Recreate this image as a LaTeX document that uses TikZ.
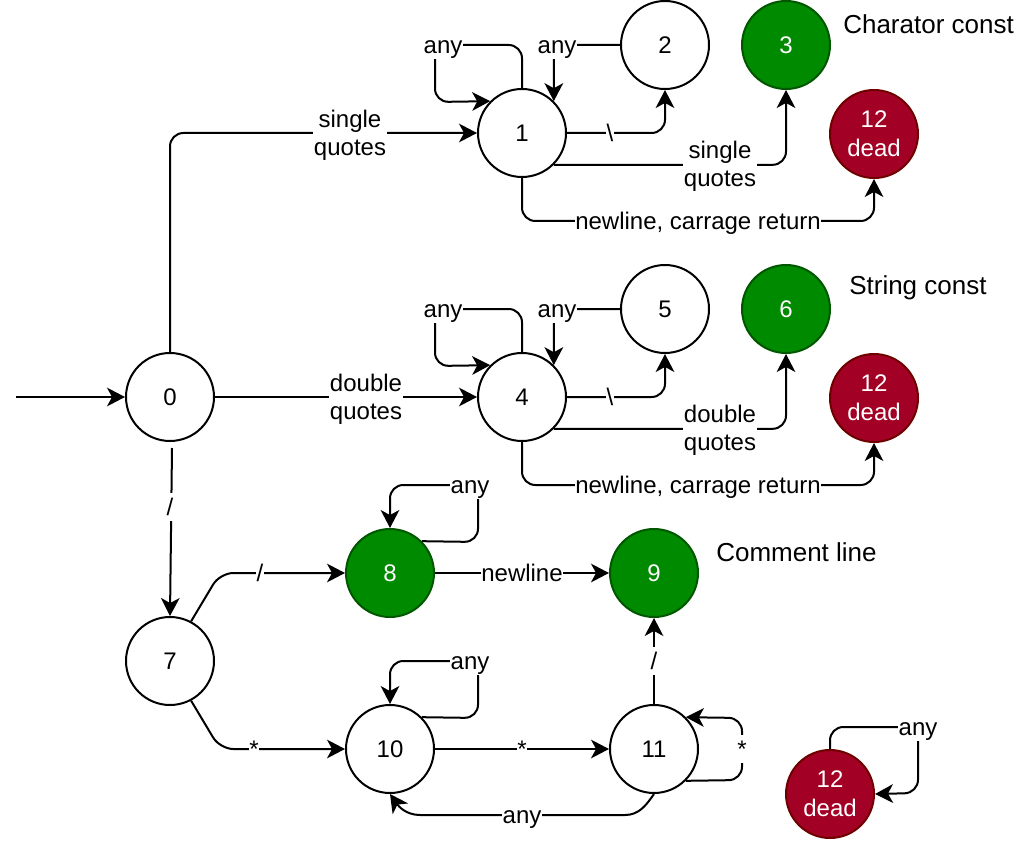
\documentclass[tikz,border=0pt]{standalone}
\usepackage{fontspec}
\setmainfont{Liberation Sans}
\usetikzlibrary{arrows.meta}
\definecolor{gfill}{HTML}{008A00}
\definecolor{gdraw}{HTML}{005700}
\definecolor{rfill}{HTML}{A20025}
\definecolor{rdraw}{HTML}{6F0000}
\begin{document}
\begin{tikzpicture}[x=0.75pt,y=-0.75pt,
 state/.style={circle,draw=black,line width=1.5pt,minimum size=66pt,inner sep=0pt,font=\fontsize{18}{21.75}\selectfont,align=center,fill=white},
 acc/.style={state,fill=gfill,draw=gdraw,text=white},
 dead/.style={state,fill=rfill,draw=rdraw,text=white},
 edge/.style={line width=1.5pt,-{Stealth[length=13.5pt,width=14pt,inset=3.8pt]},rounded corners=10pt},
 lab/.style={fill=white,inner sep=1pt,font=\fontsize{18}{21}\selectfont,align=center},
 lab1/.style={fill=white,inner sep=0.5pt,font=\fontsize{18}{21}\selectfont,text height=16.3pt,text depth=3.8pt},
 title/.style={font=\fontsize{19.5}{23}\selectfont,anchor=west,inner sep=0pt}]
\useasboundingbox (0,0) rectangle (1030,841);
% states
\node[state] (n0) at (170,397) {0};
\node[state] (n1) at (522,133) {1};
\node[state] (n2) at (665,45) {2};
\node[acc] (n3) at (786,45) {3};
\node[dead] (d1) at (874,134) {12\\dead};
\node[state] (n4) at (522,397) {4};
\node[state] (n5) at (665,309) {5};
\node[acc] (n6) at (786,309) {6};
\node[dead] (d2) at (874,398) {12\\dead};
\node[state] (n7) at (170,661) {7};
\node[acc] (n8) at (390,573) {8};
\node[acc] (n9) at (654,573) {9};
\node[state] (n10) at (390,749) {10};
\node[state] (n11) at (654,749) {11};
\node[dead] (d3) at (830,794) {12\\dead};
% titles
\node[title] (t1) at (843,24) {Charator const};
\node[title] (t2) at (849,288) {String const};
\node[title] (t3) at (716,552) {Comment line};
% start
\coordinate (start) at (16,397);
\draw[edge] (start) -- (n0.west);
% 0 -> 1, 4, 7
\draw[edge] (n0.north) |- (n1.west);
\draw[edge] (n0.east) -- (n4.west);
\coordinate (s7) at (172,448);
\draw[edge] (s7) -- (n7.north);
% group 1
\draw[edge] (n1.north) -- (522,45) -- (435,45) -- (435,102) -- (n1.135);
\draw[edge] (n2.west) -| (n1.45);
\draw[edge] (n1.east) -| (n2.south);
\draw[edge] (n1.-45) -| (n3.south);
\draw[edge] (n1.south) -- (522,221) -| (d1.south);
% group 4
\draw[edge] (n4.north) -- (522,309) -- (435,309) -- (435,366) -- (n4.135);
\draw[edge] (n5.west) -| (n4.45);
\draw[edge] (n4.east) -| (n5.south);
\draw[edge] (n4.-45) -| (n6.south);
\draw[edge] (n4.south) -- (522,485) -| (d2.south);
% comments
\draw[edge] (n7.62) -- (220,573) -- (n8.west);
\draw[edge] (n7.-62) -- (220,749) -- (n10.west);
\draw[edge] (n8.45) -- (478,542) -- (478,485) -- (390,485) -- (n8.north);
\draw[edge] (n8.east) -- (n9.west);
\draw[edge] (n10.45) -- (478,718) -- (478,661) -- (390,661) -- (n10.north);
\draw[edge] (n10.east) -- (n11.west);
\draw[edge] (n11.north) -- (n9.south);
\draw[edge] (n11.-45) -- (742,780) -- (742,718) -- (n11.45);
\draw[edge,rounded corners=0pt] (n11.south) to[out=-125,in=0] (625,815) -- (420,815) to[out=180,in=-55] (n10.south);
\draw[edge] (d3.north) -- (830,727) -- (918,727) -- (918,793) -- (d3.east);
% labels
\node[lab] (l01) at (350,135) {single\\quotes};
\node[lab] (l04) at (366,399) {double\\quotes};
\node[lab1] (l07) at (170,507) {/};
\node[lab1] (l11) at (443,45) {any};
\node[lab1] (l21) at (557,45) {any};
\node[lab1] (l12) at (610,133) {\textbackslash};
\node[lab] (l13) at (720,166) {single\\quotes};
\node[lab1] (l1d) at (698,221) {newline, carrage return};
\node[lab1] (l44) at (443,309) {any};
\node[lab1] (l54) at (557,309) {any};
\node[lab1] (l45) at (610,397) {\textbackslash};
\node[lab] (l46) at (720,430) {double\\quotes};
\node[lab1] (l4d) at (698,485) {newline, carrage return};
\node[lab1] (l78) at (260,573) {/};
\node[lab1] (l710) at (254,749) {*};
\node[lab1] (l88) at (470,485) {any};
\node[lab1] (l89) at (522,573) {newline};
\node[lab1] (l1010) at (470,661) {any};
\node[lab1] (l1011) at (522,749) {*};
\node[lab1] (l119) at (654,661) {/};
\node[lab1] (l1111) at (742,749) {*};
\node[lab1] (l1110) at (522,815) {any};
\node[lab1] (ldd) at (918,727) {any};
\end{tikzpicture}
\end{document}
